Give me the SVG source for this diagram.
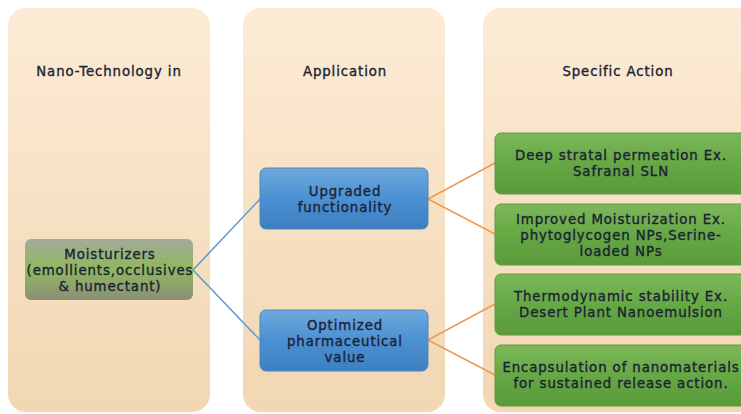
<svg xmlns="http://www.w3.org/2000/svg" width="741" height="414" viewBox="0 0 741 414">
<defs>
<linearGradient id="col" x1="0" y1="0" x2="0" y2="1">
<stop offset="0" stop-color="#fdebd6"/>
<stop offset="1" stop-color="#f1d7b2"/>
</linearGradient>
<linearGradient id="blue" x1="0" y1="0" x2="0" y2="1">
<stop offset="0" stop-color="#6ea9de"/>
<stop offset="0.5" stop-color="#4b90d2"/>
<stop offset="1" stop-color="#3d80c2"/>
</linearGradient>
<linearGradient id="green" x1="0" y1="0" x2="0" y2="1">
<stop offset="0" stop-color="#7db85a"/>
<stop offset="0.5" stop-color="#66a844"/>
<stop offset="1" stop-color="#5a9a3a"/>
</linearGradient>
<linearGradient id="moist" x1="0" y1="0" x2="0" y2="1">
<stop offset="0" stop-color="#a4aa98"/>
<stop offset="0.5" stop-color="#8fb85e"/>
<stop offset="1" stop-color="#8a8f78"/>
</linearGradient>
</defs>
<style>
.col{fill:url(#col);}
.t{font-family:"DejaVu Sans","Liberation Sans",sans-serif;font-size:13.3px;letter-spacing:0.9px;fill:#1b2236;stroke:#1b2236;stroke-width:0.35px;text-anchor:middle;}
.blue{fill:url(#blue);stroke:#4a86c0;stroke-width:1;}
.green{fill:url(#green);stroke:#5e9a40;stroke-width:1;}
.moist{fill:url(#moist);}
.cb{stroke:#5b9bd5;stroke-width:1.5;fill:none;}
.co{stroke:#f0994f;stroke-width:1.5;fill:none;}
</style>
<rect width="741" height="414" fill="#ffffff"/>
<g id="col1"><rect class="col" x="8" y="8" width="202" height="404" rx="18"/><text class="t" x="109" y="76">Nano-Technology in</text></g>
<g id="col2"><rect class="col" x="243" y="8" width="202" height="404" rx="18"/><text class="t" x="345" y="76">Application</text></g>
<g id="col3"><rect class="col" x="483" y="8" width="280" height="404" rx="18"/><text class="t" x="618" y="76">Specific Action</text></g>
<g id="connectors">
<path class="cb" d="M193 270 L260 199 M193 270 L260 340"/>
<path class="co" d="M428 199 L495 163 M428 199 L495 234 M428 340 L495 304 M428 340 L495 375"/>
</g>
<g id="moisturizers"><rect class="moist" x="25" y="239" width="168" height="61" rx="6"/>
<text class="t" x="110" y="259">Moisturizers</text><text class="t" x="110" y="275">(emollients,occlusives</text><text class="t" x="110" y="291">&amp; humectant)</text></g>
<g id="upgraded"><rect class="blue" x="260" y="168" width="168" height="61" rx="6"/>
<text class="t" x="345" y="196">Upgraded</text><text class="t" x="345" y="212">functionality</text></g>
<g id="optimized"><rect class="blue" x="260" y="310" width="168" height="61" rx="6"/>
<text class="t" x="345" y="330">Optimized</text><text class="t" x="345" y="346">pharmaceutical</text><text class="t" x="345" y="362">value</text></g>
<g id="deep"><rect class="green" x="495" y="133" width="252" height="61" rx="6"/>
<text class="t" x="621" y="160">Deep stratal permeation Ex.</text><text class="t" x="621" y="176">Safranal SLN</text></g>
<g id="improved"><rect class="green" x="495" y="204" width="252" height="61" rx="6"/>
<text class="t" x="621" y="224">Improved Moisturization Ex.</text><text class="t" x="621" y="240">phytoglycogen NPs,Serine-</text><text class="t" x="621" y="256">loaded NPs</text></g>
<g id="thermo"><rect class="green" x="495" y="274" width="252" height="61" rx="6"/>
<text class="t" x="621" y="301">Thermodynamic stability Ex.</text><text class="t" x="621" y="317">Desert Plant Nanoemulsion</text></g>
<g id="encap"><rect class="green" x="495" y="345" width="252" height="61" rx="6"/>
<text class="t" x="621" y="372">Encapsulation of nanomaterials</text><text class="t" x="621" y="388">for sustained release action.</text></g>
</svg>
